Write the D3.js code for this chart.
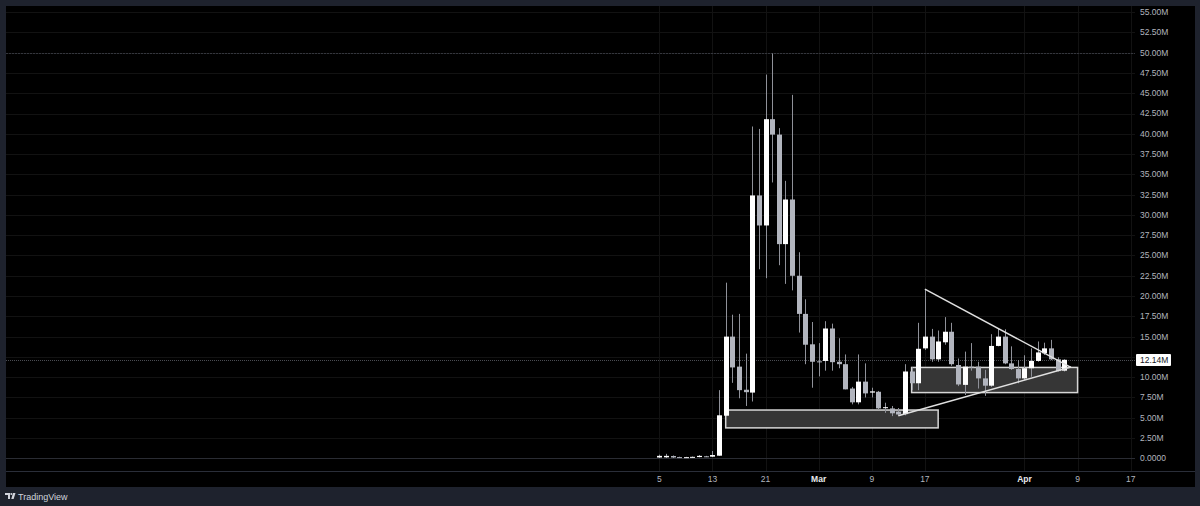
<!DOCTYPE html>
<html><head><meta charset="utf-8">
<script src="https://cdn.jsdelivr.net/npm/d3@7"></script>
<style>
html,body{margin:0;padding:0;background:#1e222d;}
svg{display:block;font-family:"Liberation Sans",Arial,sans-serif;}
</style></head>
<body>
<svg id="chart" width="1200" height="506"></svg>
<script>
// ---- data ----
const dates = ["2025-02-05","2025-02-06","2025-02-07","2025-02-08","2025-02-09","2025-02-10","2025-02-11","2025-02-12","2025-02-13",
"2025-02-14","2025-02-15","2025-02-16","2025-02-17","2025-02-18","2025-02-19","2025-02-20","2025-02-21","2025-02-22","2025-02-23",
"2025-02-24","2025-02-25","2025-02-26","2025-02-27","2025-02-28","2025-03-01","2025-03-02","2025-03-03","2025-03-04","2025-03-05",
"2025-03-06","2025-03-07","2025-03-08","2025-03-09","2025-03-10","2025-03-11","2025-03-12","2025-03-13","2025-03-14","2025-03-15",
"2025-03-16","2025-03-17","2025-03-18","2025-03-19","2025-03-20","2025-03-21","2025-03-22","2025-03-23","2025-03-24","2025-03-25",
"2025-03-26","2025-03-27","2025-03-28","2025-03-29","2025-03-30","2025-03-31","2025-04-01","2025-04-02","2025-04-03","2025-04-04",
"2025-04-05","2025-04-06","2025-04-07"];
const opens  = [0.10,0.12,0.28,0.15,0.12,0.14,0.15,0.25,0.20, 0.32,5.25,15.0,11.3,8.45,8.10,32.4,28.7,41.8,39.9,
26.4,31.9,22.5,17.8,14.05,11.95,12.0,16.0,11.9,11.6, 8.6,6.9,9.45,8.1,8.2,6.25,6.15,5.75,5.45,10.7,
9.25,13.55,15.0,12.2,14.3,15.6,11.5,9.05,11.3,11.3, 9.85,8.95,13.85,15.0,11.7,11.0,9.85,11.1,12.0,12.95,
13.55,12.2,10.8];
const closes = [0.30,0.30,0.10,0.12,0.14,0.18,0.30,0.20,0.40, 5.30,15.0,11.2,8.4,8.15,32.4,28.7,41.8,39.9,26.4,
31.9,22.5,17.8,14.0,11.9,11.9,16.0,11.85,11.6,8.5, 6.9,9.45,8.0,8.25,6.15,6.3,5.55,5.4,10.7,9.25,
13.5,15.0,12.2,14.4,15.6,11.6,9.1,11.3,11.2,9.85, 8.95,13.85,15.0,11.7,11.0,9.85,11.1,12.0,13.05,13.55,
12.2,10.75,12.14];
const highs  = [0.45,0.55,0.35,0.20,0.18,0.22,0.40,0.30,0.90, 8.4,21.65,17.7,17.8,12.9,40.9,40.6,47.3,49.9,40.7,
34.2,44.8,25.4,19.6,16.8,14.2,16.9,16.6,14.8,12.8, 8.8,12.8,11.7,8.7,8.3,6.85,6.45,6.2,11.6,11.2,
16.7,20.85,15.95,15.75,17.4,16.7,12.3,13.15,14.2,11.9, 10.9,15.3,16.0,15.9,13.8,12.1,12.7,13.55,14.4,14.25,
14.6,12.45,12.2];
const lows   = [0.05,0.05,0.05,0.10,0.10,0.12,0.12,0.15,0.15, 0.30,5.2,9.3,7.4,6.45,7.0,23.3,22.2,34.0,23.8,
21.5,20.7,15.5,11.6,8.7,10.1,10.8,10.8,11.1,8.5, 6.65,6.65,7.5,7.5,5.95,5.6,5.2,5.25,5.3,8.4,
8.4,13.35,11.9,11.9,14.0,11.4,8.9,7.8,10.8,8.6, 7.7,8.8,13.8,11.6,10.9,9.25,9.65,10.05,11.9,12.75,
12.1,10.7,10.7];
const lastPrice = 12.14;
const lastPriceLabel = "12.14M";
const yTickValues = [0,2.5,5,7.5,10,12.5,15,17.5,20,22.5,25,27.5,30,32.5,35,37.5,40,42.5,45,47.5,50,52.5,55];
const yTickLabels = ["0.0000","2.50M","5.00M","7.50M","10.00M","12.50M","15.00M","17.50M","20.00M","22.50M","25.00M","27.50M",
"30.00M","32.50M","35.00M","37.50M","40.00M","42.50M","45.00M","47.50M","50.00M","52.50M","55.00M"];
const xTickDates  = ["2025-02-05","2025-02-13","2025-02-21","2025-03-01","2025-03-09","2025-03-17","2025-04-01","2025-04-09","2025-04-17"];
const xTickLabels = ["5","13","21","Mar","9","17","Apr","9","17"];
const xTickMonth  = [false,false,false,true,false,false,true,false,false];
// drawings: zones [startDate, endDate, top, bottom]
const zoneStarts = ["2025-02-15","2025-03-15"];
const zoneEnds   = ["2025-03-19","2025-04-09"];
const zoneTops   = [5.95,11.2];
const zoneBottoms= [3.75,8.1];
// trend lines
const trendStarts = ["2025-03-17","2025-03-13"];
const trendStartVals = [20.85,5.25];
const trendEnds = ["2025-04-08","2025-04-08"];
const trendEndVals = [11.2,11.25];
const hLineVal = 50;

// ---- layout ----
const svg = d3.select("#chart");
const pane = {x0:6, x1:1135, y0:6, y1:471};
const parse = d3.utcParse("%Y-%m-%d");

const x = d3.scaleUtc().domain([parse("2025-02-05"), parse("2025-04-17")]).range([659.3, 1130.7]);
const y = d3.scaleLinear().domain([0,55]).range([458.3, 12.1]);

// black area
svg.append("rect").attr("x",6).attr("y",6).attr("width",1189).attr("height",481).attr("fill","#000");

// grid
const grid = svg.append("g");
grid.selectAll("line.h").data(yTickValues).join("line")
  .attr("x1",pane.x0).attr("x2",pane.x1)
  .attr("y1",d=>Math.round(y(d))+0.5).attr("y2",d=>Math.round(y(d))+0.5)
  .attr("stroke","#121212").attr("stroke-width",1);
grid.selectAll("line.v").data(xTickDates).join("line")
  .attr("x1",d=>Math.round(x(parse(d)))+0.5).attr("x2",d=>Math.round(x(parse(d)))+0.5)
  .attr("y1",pane.y0).attr("y2",pane.y1)
  .attr("stroke","#121212").attr("stroke-width",1);

// zero line and 50M line
svg.append("line").attr("x1",pane.x0).attr("x2",pane.x1)
  .attr("y1",Math.round(y(0))+0.5).attr("y2",Math.round(y(0))+0.5)
  .attr("stroke","#2a2c33").attr("stroke-width",1);
svg.append("line").attr("x1",pane.x0).attr("x2",pane.x1)
  .attr("y1",Math.round(y(hLineVal))+0.5).attr("y2",Math.round(y(hLineVal))+0.5)
  .attr("stroke","#34363d").attr("stroke-width",1).attr("stroke-dasharray","2,1");

// time axis border
svg.append("line").attr("x1",6).attr("x2",1195).attr("y1",471.5).attr("y2",471.5)
  .attr("stroke","#2a2e39").attr("stroke-width",1);

// last price line
svg.append("line").attr("x1",pane.x0).attr("x2",pane.x1)
  .attr("y1",Math.round(y(lastPrice))+0.5).attr("y2",Math.round(y(lastPrice))+0.5)
  .attr("stroke","#4a4c52").attr("stroke-width",1).attr("stroke-dasharray","1,1");

// zones
const zones = zoneStarts.map((s,i)=>({s:parse(s),e:parse(zoneEnds[i]),t:zoneTops[i],b:zoneBottoms[i]}));
svg.append("g").selectAll("rect").data(zones).join("rect")
  .attr("x",d=>x(d.s)).attr("y",d=>y(d.t))
  .attr("width",d=>x(d.e)-x(d.s)).attr("height",d=>y(d.b)-y(d.t))
  .attr("fill","#363636").attr("stroke","#d6d6d6").attr("stroke-width",1.5);

// candles
const candles = dates.map((d,i)=>({d:parse(d),o:opens[i],c:closes[i],h:highs[i],l:lows[i]}));
const cg = svg.append("g");
cg.selectAll("line").data(candles).join("line")
  .attr("x1",d=>Math.round(x(d.d))+0.5).attr("x2",d=>Math.round(x(d.d))+0.5)
  .attr("y1",d=>y(d.h)).attr("y2",d=>y(d.l))
  .attr("stroke","#8f9199").attr("stroke-width",1);
const bw = 5;
cg.selectAll("rect").data(candles).join("rect")
  .attr("x",d=>Math.round(x(d.d))+0.5-bw/2)
  .attr("y",d=>y(Math.max(d.o,d.c)))
  .attr("width",bw)
  .attr("height",d=>Math.max(1,Math.abs(y(d.o)-y(d.c))))
  .attr("fill",d=>d.c>=d.o?"#ffffff":"#b2b5be");

// trend lines
const trends = trendStarts.map((s,i)=>({s:parse(s),sv:trendStartVals[i],e:parse(trendEnds[i]),ev:trendEndVals[i]}));
svg.append("g").selectAll("line").data(trends).join("line")
  .attr("x1",d=>x(d.s)).attr("y1",d=>y(d.sv)).attr("x2",d=>x(d.e)).attr("y2",d=>y(d.ev))
  .attr("stroke","#e0e0e0").attr("stroke-width",1.5);

// y axis labels (hide those colliding with last price label)
const lpY = Math.round(y(lastPrice));
const yLabelData = yTickValues.map((v,i)=>({v:v,t:yTickLabels[i]})).filter(d=>Math.abs(y(d.v)-lpY)>8);
svg.append("g").selectAll("text").data(yLabelData).join("text")
  .attr("x",1140).attr("y",d=>y(d.v)).attr("dy","0.35em")
  .attr("fill","#b2b5be").attr("font-size","8.5px")
  .text(d=>d.t);

// last price label
svg.append("rect").attr("x",1136).attr("y",lpY-6).attr("width",35).attr("height",12).attr("fill","#ffffff").attr("rx",1);
svg.append("text").attr("x",1140).attr("y",lpY).attr("dy","0.35em").attr("fill","#131722")
  .attr("font-size","8.5px").text(lastPriceLabel);

// x axis labels
svg.append("g").selectAll("text").data(xTickDates).join("text")
  .attr("x",d=>x(parse(d))).attr("y",479.5).attr("dy","0.35em").attr("text-anchor","middle")
  .attr("fill",(d,i)=>xTickMonth[i]?"#e8e9ec":"#b2b5be")
  .attr("font-weight",(d,i)=>xTickMonth[i]?"bold":"normal")
  .attr("font-size","8.5px")
  .text((d,i)=>xTickLabels[i]);

// TradingView logo
const logo = svg.append("g").attr("transform","translate(5,493)");
logo.append("path").attr("d","M0 0 H5 V6 H3 V2 H0 Z").attr("fill","#d1d4dc");
logo.append("circle").attr("cx",6.3).attr("cy",1).attr("r",1).attr("fill","#d1d4dc");
logo.append("path").attr("d","M8 0 H10.5 L8.6 6 H6.3 Z").attr("fill","#d1d4dc");
svg.append("text").attr("x",18).attr("y",497).attr("dy","0.35em").attr("fill","#d1d4dc")
  .attr("font-size","9px").text("TradingView");
</script>
</body></html>
